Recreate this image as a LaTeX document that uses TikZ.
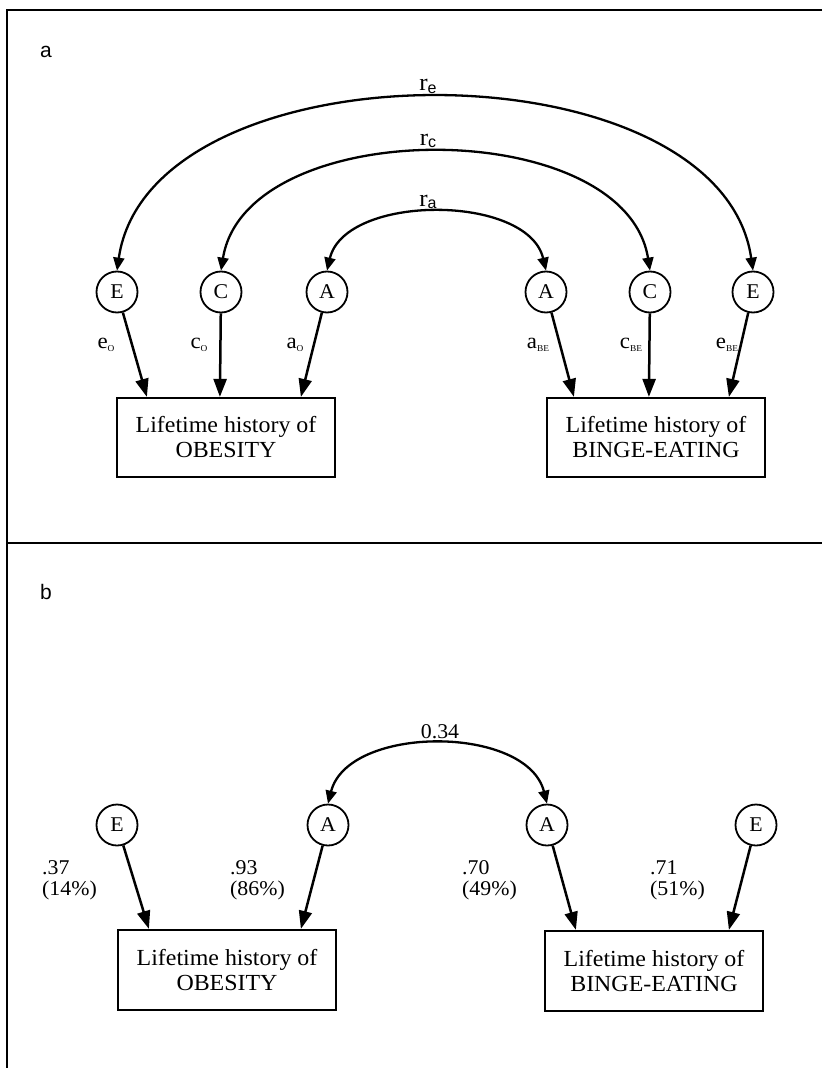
\documentclass[tikz,border=0pt]{standalone}
\usepackage{fontspec}
\setmainfont{Liberation Serif}[FakeStretch=1.04]
\setsansfont{Liberation Sans}
\usetikzlibrary{arrows.meta,calc}
\newcommand\subO[1]{\raisebox{-2.5pt}{\fontsize{9}{9}\selectfont #1}}
\newcommand\rlab[1]{{\fontsize{24}{24}\selectfont r}\raisebox{-2.5pt}{\sffamily\fontsize{16}{16}\selectfont #1}}
\begin{document}
\begin{tikzpicture}[x=1pt,y=-1pt,
  lat/.style={circle,draw,line width=1.8pt,minimum size=41pt,inner sep=0pt,font=\fontsize{21}{22}\selectfont},
  box/.style={draw,line width=2.2pt,minimum width=218pt,minimum height=79pt,align=center,inner sep=0pt,font=\fontsize{23}{25}\selectfont},
  pth/.style={line width=2.5pt,-{Triangle[length=18pt,width=13pt]}},
  cov/.style={line width=2.3pt,{Triangle[length=13pt,width=11pt]}-{Triangle[length=13pt,width=11pt]}},
  lbl/.style={font=\fontsize{22}{24}\selectfont,inner sep=0pt},
  num/.style={font=\fontsize{21}{22}\selectfont,inner sep=0pt,anchor=base west},
  panel/.style={font=\sffamily\fontsize{21}{21}\selectfont,inner sep=0pt}]
\useasboundingbox (0,0) rectangle (822,1070);
% frame
\draw[line width=2.5pt] (822,10) -- (7,10) -- (7,1068);
\draw[line width=2.5pt] (7,543) -- (822,543);
% ---------------- panel a
\node[panel] (pa) at (46,52) {a};
\node[lat] (E1) at (117,292) {E};
\node[lat] (C1) at (221,292) {C};
\node[lat] (A1) at (327,292) {A};
\node[lat] (A2) at (546,292) {A};
\node[lat] (C2) at (650,292) {C};
\node[lat] (E2) at (753,292) {E};
\node[box] (B1) at (226,437.5) {Lifetime history of\\OBESITY};
\node[box] (B2) at (656,437.5) {Lifetime history of\\BINGE-EATING};
\draw[pth] (E1) -- ([xshift=31pt]B1.north west);
\draw[pth] (C1) -- ([xshift=104pt]B1.north west);
\draw[pth] (A1) -- ([xshift=185pt]B1.north west);
\draw[pth] (A2) -- ([xshift=28pt]B2.north west);
\draw[pth] (C2) -- ([xshift=103pt]B2.north west);
\draw[pth] (E2) -- ([xshift=183pt]B2.north west);
\node[lbl] (le1) at (106,345) {e\subO{O}};
\node[lbl] (lc1) at (199,345) {c\subO{O}};
\node[lbl] (la1) at (295,345) {a\subO{O}};
\node[lbl] (la2) at (538,345) {a\subO{BE}};
\node[lbl] (lc2) at (631,345) {c\subO{BE}};
\node[lbl] (le2) at (727,345) {e\subO{BE}};
\draw[cov] (A1.north) .. controls +(18,-77) and +(-18,-77) .. (A2.north);
\draw[cov] (C1.north) .. controls +(25,-157) and +(-25,-157) .. (C2.north);
\draw[cov] (E1.north) .. controls +(33,-230) and +(-33,-230) .. (E2.north);
\node[inner sep=0pt,anchor=base] (ra) at (428,206) {\rlab{a}};
\node[inner sep=0pt,anchor=base] (rc) at (428,145) {\rlab{c}};
\node[inner sep=0pt,anchor=base] (re) at (428,91) {\rlab{e}};
% ---------------- panel b
\node[panel] (pb) at (46,592) {b};
\node[lat] (E3) at (117,825) {E};
\node[lat] (A3) at (328,825) {A};
\node[lat] (A4) at (547,825) {A};
\node[lat] (E4) at (756,825) {E};
\node[box,minimum height=80pt] (B3) at (227,970) {Lifetime history of\\OBESITY};
\node[box,minimum height=80pt] (B4) at (654,971) {Lifetime history of\\BINGE-EATING};
\draw[pth] (E3) -- ([xshift=32pt]B3.north west);
\draw[pth] (A3) -- ([xshift=184pt]B3.north west);
\draw[pth] (A4) -- ([xshift=32pt]B4.north west);
\draw[pth] (E4) -- ([xshift=185pt]B4.north west);
\draw[cov] (A3.north) .. controls +(20,-79) and +(-20,-79) .. (A4.north);
\node[inner sep=0pt,anchor=base,font=\fontsize{21}{22}\selectfont] (r34) at (440,738) {0.34};
\node[num] (n1a) at (42,874) {.37};
\node[num] (n1b) at (42,895) {(14\%)};
\node[num] (n2a) at (230,874) {.93};
\node[num] (n2b) at (230,895) {(86\%)};
\node[num] (n3a) at (462,874) {.70};
\node[num] (n3b) at (462,895) {(49\%)};
\node[num] (n4a) at (650,874) {.71};
\node[num] (n4b) at (650,895) {(51\%)};
\end{tikzpicture}
\end{document}
